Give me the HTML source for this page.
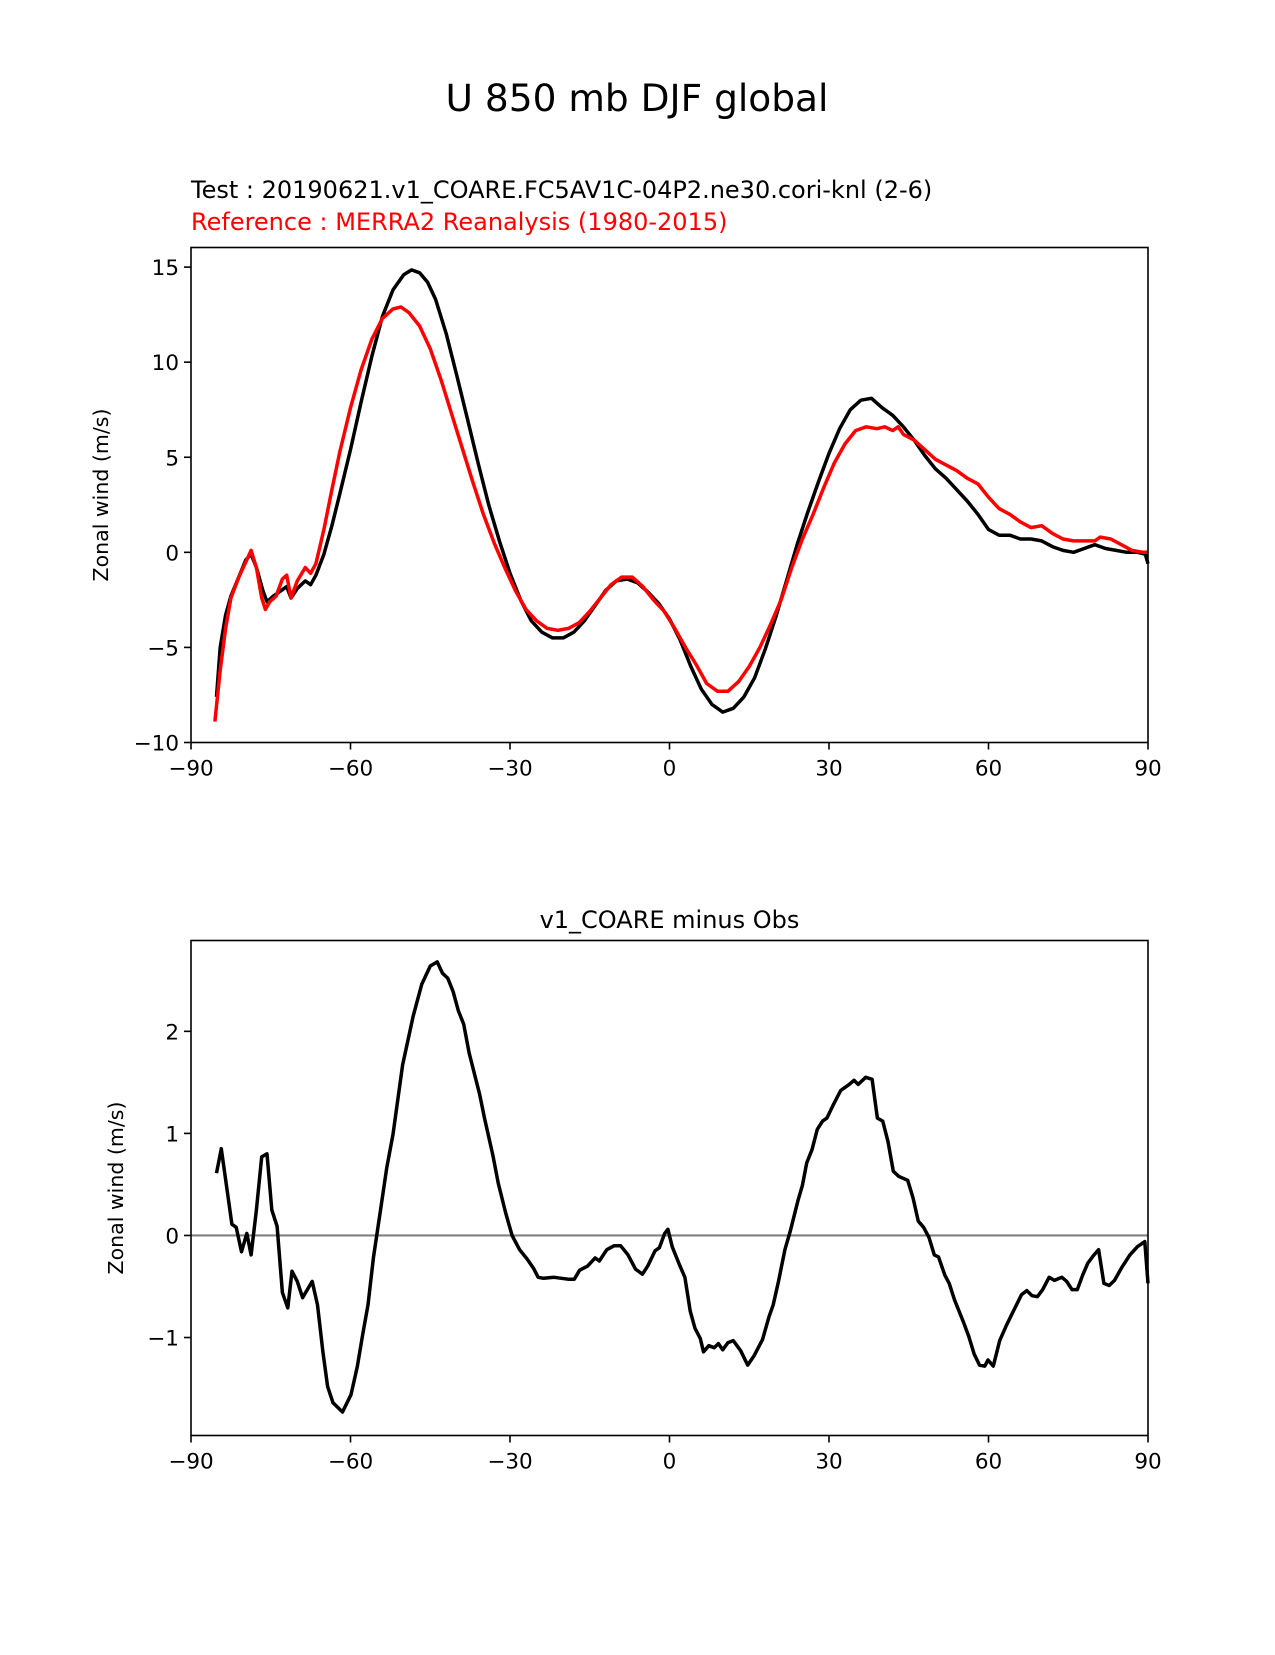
<!DOCTYPE html>
<html><head><meta charset="utf-8"><style>
body{margin:0;background:#fff}
svg text{font-family:"DejaVu Sans","Liberation Sans",sans-serif;fill:#000}
</style></head><body>
<svg id="fig" width="1275" height="1650" xmlns="http://www.w3.org/2000/svg">
<text x="637" y="111" font-size="37.5" text-anchor="middle">U 850 mb DJF global</text>
<text x="191" y="198" font-size="24">Test : 20190621.v1_COARE.FC5AV1C-04P2.ne30.cori-knl (2-6)</text>
<text x="191" y="230" font-size="24" style="fill:#ff0000">Reference : MERRA2 Reanalysis (1980-2015)</text>
<text x="669.5" y="928" font-size="24" text-anchor="middle">v1_COARE minus Obs</text>
<g id="top"></g>
<g id="bot"></g>
</svg>
<script>
const xTicks=[-90,-60,-30,0,30,60,90];
const topYTicks=[-10,-5,0,5,10,15];
const botYTicks=[-1,0,1,2];
const testLat=[-85.2,-84.5,-83.5,-82.5,-81,-79.7,-78.7,-77.7,-76.5,-75.7,-74.5,-73,-72,-71.2,-70,-68.5,-67.5,-66.5,-65,-63.5,-62,-60,-58,-56,-54,-52,-50,-48.5,-47,-45.5,-44,-42,-40,-38,-36,-34,-32,-30,-28,-26,-24,-22,-20,-18,-16,-14,-12,-10,-8,-6,-4,-2,0,2,4,6,8,10,12,14,16,18,20,22,24,26,28,30,32,34,36,38,40,42,44,46,48,50,52,54,56,58,60,62,64,66,68,70,72,74,76,78,80,82,84,86,88,89.5,90];
const testVal=[-7.6,-5,-3.3,-2.3,-1.3,-0.4,-0.1,-0.8,-2.0,-2.6,-2.3,-2.0,-1.8,-2.4,-1.9,-1.5,-1.7,-1.2,-0.1,1.4,3.1,5.4,7.9,10.3,12.4,13.8,14.6,14.85,14.7,14.2,13.3,11.5,9.3,7.0,4.7,2.5,0.6,-1.1,-2.5,-3.6,-4.2,-4.5,-4.5,-4.2,-3.6,-2.8,-2.0,-1.5,-1.4,-1.6,-2.1,-2.7,-3.5,-4.6,-6.0,-7.2,-8.0,-8.4,-8.2,-7.6,-6.6,-5.1,-3.4,-1.5,0.4,2.1,3.7,5.2,6.5,7.5,8.0,8.1,7.6,7.2,6.6,5.9,5.1,4.4,3.9,3.3,2.7,2.0,1.2,0.9,0.9,0.7,0.7,0.6,0.3,0.1,0.0,0.2,0.4,0.2,0.1,0.0,0.0,-0.1,-0.6];
const refLat=[-85.5,-84.5,-83.5,-82.5,-81,-79.5,-78.7,-77.7,-76.7,-76,-75.2,-74,-72.8,-72,-71.2,-70,-68.5,-67.5,-66.5,-65,-63.5,-62,-60,-58,-56,-54,-52,-50.5,-49,-47,-45,-43,-41,-39,-37,-35,-33,-31,-29,-27,-25,-23,-21,-19,-17,-15,-13,-11,-9,-7,-5,-3,-1,1,3,5,7,9,11,13,15,17,19,21,23,25,27,29,31,33,35,37,39,40.5,42,43,44,46,48,50,52,54,56,58,60,62,64,66,68,70,72,74,76,78,80,81,83,85,87,89,90];
const refVal=[-8.9,-6.2,-4,-2.4,-1.3,-0.4,0.1,-0.8,-2.4,-3.0,-2.6,-2.3,-1.4,-1.2,-2.4,-1.5,-0.8,-1.1,-0.6,1.2,3.3,5.3,7.6,9.6,11.2,12.3,12.8,12.9,12.6,11.9,10.7,9.1,7.3,5.5,3.7,2.0,0.5,-0.8,-2.0,-3.0,-3.6,-4.0,-4.1,-4.0,-3.7,-3.1,-2.4,-1.7,-1.3,-1.3,-1.8,-2.5,-3.1,-4.0,-5.0,-5.9,-6.9,-7.3,-7.3,-6.8,-6.0,-5.0,-3.8,-2.5,-0.8,0.7,2.0,3.4,4.7,5.7,6.4,6.6,6.5,6.6,6.4,6.6,6.2,5.9,5.4,4.9,4.6,4.3,3.9,3.6,2.9,2.3,2.0,1.6,1.3,1.4,1.0,0.7,0.6,0.6,0.6,0.8,0.7,0.4,0.1,0.0,0.0];
const diffLat=[-85.2,-84.3,-82.3,-81.5,-80.5,-79.5,-78.7,-77.7,-76.7,-75.7,-74.8,-73.8,-72.8,-71.8,-71.0,-70.0,-69.0,-67.2,-66.2,-65.2,-64.3,-63.3,-61.5,-59.9,-58.7,-57.7,-56.7,-55.7,-54.2,-53.2,-52.0,-50.2,-48.2,-46.6,-45.0,-43.7,-42.7,-41.7,-40.7,-39.7,-38.7,-37.7,-35.7,-34.8,-33.2,-32.2,-30.8,-29.6,-28.2,-26.8,-25.6,-24.7,-23.7,-21.7,-18.9,-17.9,-16.9,-15.4,-14.0,-13.2,-11.8,-10.4,-9.2,-7.8,-6.4,-5.1,-4.1,-2.7,-1.9,-0.9,-0.3,0.5,1.9,2.9,3.9,4.8,5.8,6.4,7.4,8.4,9.2,10.0,11.0,12.0,13.4,14.7,15.9,17.5,18.7,19.5,20.5,21.7,22.7,24.2,25.0,25.8,26.8,27.8,28.8,29.6,30.8,32.2,33.8,34.7,35.5,36.9,38.1,39.1,40.1,41.1,42.1,43.1,44.8,45.8,46.8,47.8,48.8,49.8,50.6,51.8,52.6,53.6,54.6,55.3,56.3,57.3,58.3,59.3,59.9,60.9,62.1,63.3,64.3,66.2,67.2,68.2,69.2,70.2,71.4,72.4,73.8,74.7,75.7,76.7,77.7,78.7,79.7,80.7,81.7,82.7,83.7,85.0,86.6,88.0,89.4,90];
const diffVal=[0.61,0.85,0.11,0.08,-0.16,0.02,-0.19,0.25,0.77,0.8,0.25,0.09,-0.56,-0.71,-0.35,-0.45,-0.61,-0.45,-0.68,-1.14,-1.48,-1.64,-1.73,-1.56,-1.28,-0.97,-0.68,-0.22,0.3,0.66,0.99,1.67,2.15,2.46,2.64,2.68,2.57,2.52,2.39,2.2,2.07,1.79,1.38,1.15,0.78,0.51,0.22,0,-0.14,-0.23,-0.32,-0.41,-0.42,-0.41,-0.43,-0.43,-0.34,-0.3,-0.22,-0.25,-0.14,-0.1,-0.1,-0.19,-0.33,-0.38,-0.3,-0.15,-0.12,0.02,0.06,-0.11,-0.29,-0.41,-0.74,-0.91,-1.01,-1.14,-1.08,-1.1,-1.06,-1.12,-1.05,-1.03,-1.13,-1.27,-1.18,-1.02,-0.8,-0.68,-0.45,-0.14,0.04,0.35,0.49,0.71,0.84,1.04,1.12,1.15,1.28,1.42,1.48,1.52,1.48,1.55,1.53,1.15,1.12,0.92,0.63,0.58,0.54,0.37,0.14,0.08,-0.02,-0.19,-0.21,-0.39,-0.47,-0.63,-0.76,-0.85,-0.99,-1.16,-1.27,-1.28,-1.22,-1.28,-1.03,-0.89,-0.78,-0.58,-0.54,-0.59,-0.6,-0.53,-0.41,-0.44,-0.41,-0.45,-0.53,-0.53,-0.39,-0.27,-0.2,-0.14,-0.47,-0.49,-0.44,-0.32,-0.19,-0.11,-0.06,-0.47];

const NS='http://www.w3.org/2000/svg';
function mk(tag,attrs,parent){const e=document.createElementNS(NS,tag);for(const k in attrs)e.setAttribute(k,attrs[k]);parent.appendChild(e);return e;}
const L=191,R=1148;
const xs=v=>L+(v+90)/180*(R-L);
function axes(g,T,B,ymin,ymax,yt,ylab,labY){
  const ys=v=>B-(v-ymin)/(ymax-ymin)*(B-T);
  xTicks.forEach(t=>{
    const ln=mk('line',{x1:xs(t),x2:xs(t),y1:B,y2:B+7,stroke:'#000','stroke-width':1.6},g);
    
    
    const tx=mk('text',{x:xs(t),y:B+33,'font-size':21.5,'text-anchor':'middle'},g);
    tx.textContent=(t<0?'\u2212'+(-t):String(t));
    
    
  });
  yt.forEach(t=>{
    const ln=mk('line',{x1:L-7,x2:L,y1:ys(t),y2:ys(t),stroke:'#000','stroke-width':1.6},g);
    
    
    const tx=mk('text',{x:L-12,y:ys(t)+8,'font-size':21.5,'text-anchor':'end'},g);
    tx.textContent=(t<0?'\u2212'+(-t):String(t));
    
    
  });
  const yl=mk('text',{x:0,y:0,'font-size':20.5,'text-anchor':'middle',transform:`translate(${labY},${(T+B)/2}) rotate(-90)`},g);
  yl.textContent=ylab;
  
  
  return ys;
}
function line(g,lat,val,ys,color,name){
  const d=lat.map((x,i)=>(i?'L':'M')+xs(x).toFixed(1)+','+ys(val[i]).toFixed(1)).join('');
  const p=mk('path',{d:d,fill:'none',stroke:color,'stroke-width':3.5,'stroke-linejoin':'round'},g);
  
  
}
function frame(g,T,B){
  const r=mk('rect',{x:L,y:T,width:R-L,height:B-T,fill:'none',stroke:'#000','stroke-width':1.6},g);
  
  
}
const gt=document.getElementById('top');
const ysT=axes(gt,247.5,742.5,-10,16.03,topYTicks,'Zonal wind (m/s)',108);
line(gt,testLat,testVal,ysT,'#000','test-line');
line(gt,refLat,refVal,ysT,'#ff0000','reference-line');
frame(gt,247.5,742.5);
const gb=document.getElementById('bot');
const ysB=axes(gb,940.5,1435.5,-1.96,2.89,botYTicks,'Zonal wind (m/s)',123);
const z=mk('line',{x1:L,x2:R,y1:ysB(0),y2:ysB(0),stroke:'#808080','stroke-width':2.2},gb);


line(gb,diffLat,diffVal,ysB,'#000','difference-line');
frame(gb,940.5,1435.5);
</script>
</body></html>
